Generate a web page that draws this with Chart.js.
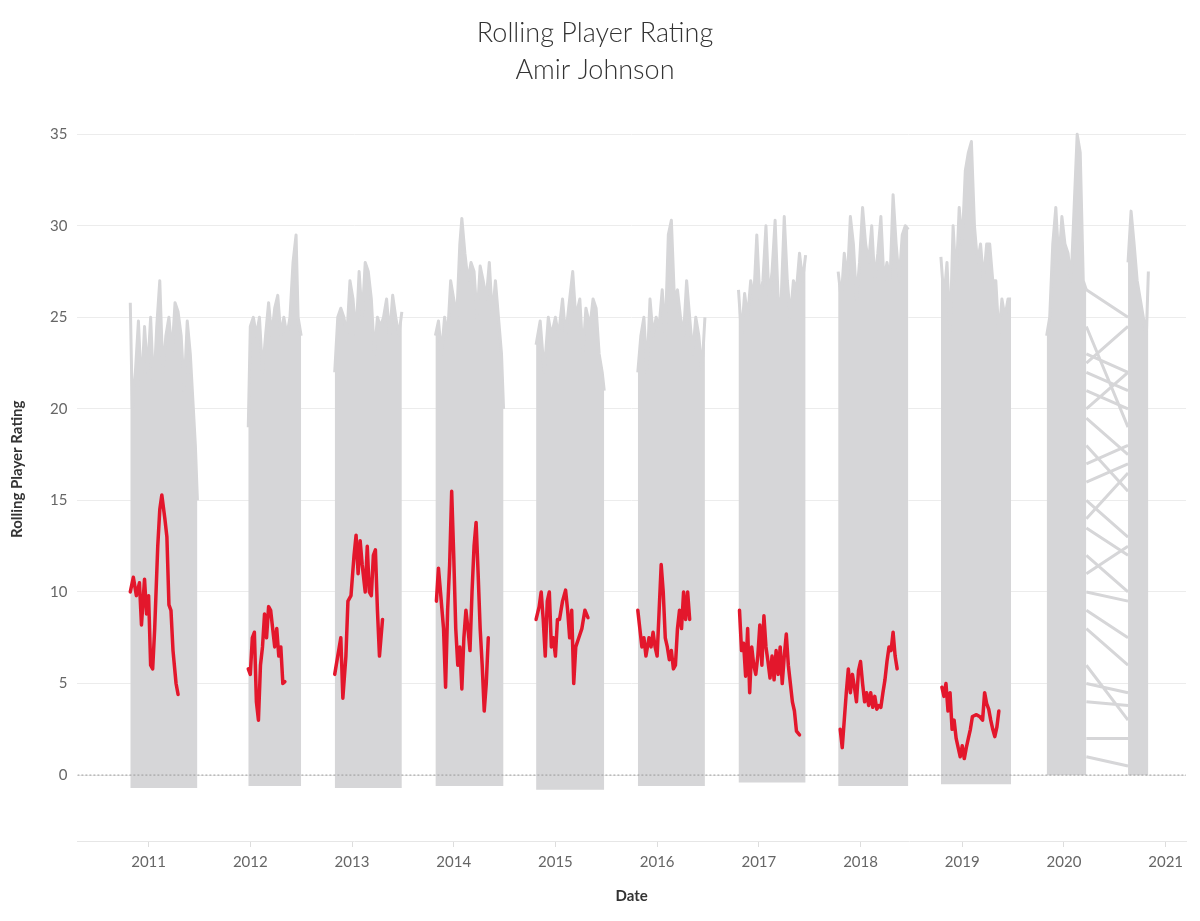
<!DOCTYPE html>
<html>
<head>
<meta charset="utf-8">
<script src="https://cdn.jsdelivr.net/npm/chart.js@4/dist/chart.umd.min.js"></script>
<style>
  html, body { margin: 0; padding: 0; background: #fff; }
  #wrap { width: 1200px; height: 921px; position: relative; }
</style>
</head>
<body>
<div id="wrap"><canvas id="ratingChart"></canvas></div>
<script>
// season ticks on the date axis
var yearTicks = [2011, 2012, 2013, 2014, 2015, 2016, 2017, 2018, 2019, 2020, 2021]

// league-wide envelope (top of the grey mass) per season: [date in years, rating]
var league2011 = [[2010.82,25.8],[2010.84,20],[2010.87,22],[2010.90,24.8],[2010.93,21],[2010.96,24.5],[2010.99,22],[2011.02,25],[2011.05,21],[2011.08,24.5],[2011.11,27],[2011.14,22],[2011.17,24],[2011.20,25],[2011.23,23],[2011.26,25.8],[2011.29,25.3],[2011.32,24],[2011.35,21],[2011.38,24.8],[2011.41,23],[2011.44,20],[2011.46,18],[2011.48,15]]
var league2012 = [[2011.98,19],[2012.00,24.5],[2012.03,25],[2012.06,24],[2012.09,25],[2012.12,22],[2012.15,24],[2012.18,25.8],[2012.21,24],[2012.24,25.5],[2012.27,26.2],[2012.30,24],[2012.33,25],[2012.36,24],[2012.39,25],[2012.42,28],[2012.45,29.5],[2012.47,25],[2012.50,24]]
var league2013 = [[2012.83,22],[2012.86,25],[2012.89,25.5],[2012.92,25],[2012.95,24],[2012.98,27],[2013.01,26],[2013.04,24],[2013.07,27.5],[2013.10,25],[2013.13,28],[2013.16,27.5],[2013.19,26],[2013.22,23],[2013.25,25],[2013.28,24.5],[2013.31,25],[2013.34,26],[2013.37,24],[2013.40,26.2],[2013.43,25],[2013.46,24],[2013.49,25.3]]
var league2014 = [[2013.82,24],[2013.85,24.8],[2013.88,23],[2013.91,25],[2013.94,24],[2013.97,27],[2014.00,26],[2014.03,25],[2014.06,29],[2014.08,30.4],[2014.11,28.5],[2014.14,27],[2014.17,28],[2014.20,27.5],[2014.23,25],[2014.26,27.8],[2014.29,27],[2014.32,26],[2014.35,28],[2014.38,25],[2014.41,27],[2014.44,25],[2014.47,23],[2014.49,20]]
var league2015 = [[2014.81,23.5],[2014.85,24.8],[2014.89,22],[2014.93,25],[2014.96,24],[2015.00,25],[2015.03,24],[2015.07,26],[2015.10,24],[2015.13,25.5],[2015.17,27.5],[2015.20,25],[2015.24,26],[2015.27,23],[2015.30,25.5],[2015.34,24.5],[2015.37,26],[2015.40,25.5],[2015.43,23],[2015.46,22],[2015.48,21]]
var league2016 = [[2015.81,22],[2015.84,24],[2015.87,25],[2015.90,22],[2015.93,26],[2015.96,24],[2015.99,25],[2016.02,24.5],[2016.05,26.5],[2016.08,24],[2016.11,29.5],[2016.14,30.3],[2016.17,26],[2016.20,26.5],[2016.23,25],[2016.26,24],[2016.29,27],[2016.32,25],[2016.35,23],[2016.38,25],[2016.41,24],[2016.44,22],[2016.47,25]]
var league2017 = [[2016.80,26.5],[2016.83,24],[2016.86,26.3],[2016.89,25],[2016.92,27],[2016.95,26],[2016.98,29.5],[2017.01,26],[2017.04,27],[2017.07,30],[2017.10,26],[2017.13,27.5],[2017.16,30.3],[2017.19,26],[2017.22,26],[2017.25,30.5],[2017.28,27],[2017.31,25],[2017.34,27],[2017.37,26.5],[2017.40,28.5],[2017.43,27],[2017.46,28.4]]
var league2018 = [[2017.78,27.5],[2017.81,26],[2017.84,28.5],[2017.87,27],[2017.90,30.5],[2017.93,29],[2017.96,26],[2017.99,28],[2018.02,31],[2018.05,29],[2018.08,28],[2018.11,30],[2018.14,27],[2018.17,28.5],[2018.20,30.5],[2018.23,27],[2018.26,28],[2018.29,27],[2018.32,31.7],[2018.35,29],[2018.38,27],[2018.41,29.5],[2018.44,30],[2018.47,29.8]]
var league2019 = [[2018.79,28.3],[2018.82,26],[2018.85,28],[2018.88,24],[2018.91,30],[2018.94,27],[2018.97,31],[2019.00,29],[2019.03,33],[2019.06,34],[2019.09,34.6],[2019.12,30],[2019.15,28],[2019.18,29],[2019.21,27],[2019.24,29],[2019.27,29],[2019.30,27],[2019.33,27],[2019.36,24],[2019.39,26],[2019.42,25],[2019.45,26],[2019.48,26]]
var league2020a = [[2019.83,24],[2019.86,25],[2019.89,29],[2019.92,31],[2019.95,28],[2019.98,30.5],[2020.01,29],[2020.04,28.5],[2020.07,27],[2020.10,31],[2020.13,35],[2020.16,34],[2020.19,27],[2020.22,26.5]]
var league2020b = [[2020.63,28],[2020.66,30.8],[2020.69,29],[2020.72,27],[2020.75,26],[2020.78,25],[2020.81,24],[2020.83,27.5]]
// bottom of the grey mass per season
var leagueFloor = [-0.7, -0.6, -0.7, -0.6, -0.8, -0.6, -0.4, -0.6, -0.5, 0, 0]

// 2020 bubble gap: ratings before (x 2020.22) and after (x 2020.63) the pause
var bubbleBefore = [26.5, 23, 22.5, 21, 19.5, 18, 16, 15, 13.5, 12, 10, 8, 6, 4, 2, 1, 20, 17, 24.5, 14, 22, 11, 9, 5]
var bubbleAfter  = [25, 22, 24.5, 20, 17.5, 15.5, 17, 13, 12, 10, 9.5, 6, 3, 3.8, 2, 0.5, 22, 18, 19, 16.5, 21, 12.5, 7.5, 4.5]

// Amir Johnson rolling rating per season: [date in years, rating]
var amir2011 = [[2010.82,10],[2010.85,10.8],[2010.88,9.8],[2010.91,10.5],[2010.93,8.2],[2010.96,10.7],[2010.98,8.8],[2011.00,9.8],[2011.02,6],[2011.04,5.8],[2011.06,8],[2011.09,12.5],[2011.11,14.5],[2011.13,15.3],[2011.16,14],[2011.18,13],[2011.20,9.3],[2011.22,9],[2011.24,6.8],[2011.27,5],[2011.29,4.4]]
var amir2012 = [[2011.98,5.8],[2012.00,5.5],[2012.02,7.5],[2012.04,7.8],[2012.06,4],[2012.08,3],[2012.10,6],[2012.12,7],[2012.14,8.8],[2012.16,7.5],[2012.18,9.2],[2012.20,9],[2012.22,8],[2012.24,7],[2012.26,8],[2012.28,6.5],[2012.30,7],[2012.32,5],[2012.34,5.1]]
var amir2013 = [[2012.83,5.5],[2012.86,6.5],[2012.89,7.5],[2012.91,4.2],[2012.94,6.5],[2012.96,9.5],[2012.99,9.8],[2013.02,12],[2013.04,13.1],[2013.06,11],[2013.08,12.8],[2013.10,11.5],[2013.13,10],[2013.15,12.5],[2013.17,10],[2013.19,9.8],[2013.21,12],[2013.23,12.3],[2013.25,9],[2013.27,6.5],[2013.30,8.5]]
var amir2014 = [[2013.83,9.5],[2013.85,11.3],[2013.87,10],[2013.90,8],[2013.92,4.8],[2013.94,9],[2013.96,11.5],[2013.98,15.5],[2014.00,12],[2014.02,8],[2014.04,6],[2014.06,7],[2014.08,4.7],[2014.10,7.5],[2014.12,9],[2014.14,8],[2014.16,6.8],[2014.18,10],[2014.20,12.5],[2014.22,13.8],[2014.24,11],[2014.26,8],[2014.28,6],[2014.30,3.5],[2014.32,5],[2014.34,7.5]]
var amir2015 = [[2014.81,8.5],[2014.84,9.2],[2014.86,10],[2014.88,8.5],[2014.90,6.5],[2014.92,9.5],[2014.94,10],[2014.96,7],[2014.98,7.5],[2015.00,6.5],[2015.02,8.5],[2015.04,8.5],[2015.07,9.5],[2015.10,10.1],[2015.12,9],[2015.14,7.5],[2015.16,9],[2015.18,5],[2015.20,7],[2015.23,7.5],[2015.26,8],[2015.29,9],[2015.32,8.6]]
var amir2016 = [[2015.81,9],[2015.83,8],[2015.85,7],[2015.87,7.5],[2015.89,6.5],[2015.92,7.5],[2015.94,7],[2015.96,7.8],[2015.98,7],[2016.00,6.5],[2016.02,9],[2016.04,11.5],[2016.06,10],[2016.08,7.5],[2016.10,7],[2016.12,6.3],[2016.14,6.8],[2016.16,5.8],[2016.18,6],[2016.20,8],[2016.22,9],[2016.24,8],[2016.26,10],[2016.28,8.5],[2016.30,10],[2016.32,8.5]]
var amir2017 = [[2016.81,9],[2016.83,6.8],[2016.85,7.2],[2016.87,5.4],[2016.89,8],[2016.91,4.5],[2016.93,7],[2016.95,6],[2016.97,5.5],[2016.99,6.5],[2017.01,8.2],[2017.03,6],[2017.05,8.7],[2017.07,7],[2017.09,6.2],[2017.11,5.3],[2017.13,6.5],[2017.15,5.2],[2017.17,6.8],[2017.19,5.5],[2017.21,7],[2017.23,5],[2017.25,6.5],[2017.27,7.7],[2017.29,6],[2017.31,5],[2017.33,4],[2017.35,3.5],[2017.37,2.4],[2017.40,2.2]]
var amir2018 = [[2017.80,2.5],[2017.82,1.5],[2017.84,3],[2017.86,4.5],[2017.88,5.8],[2017.90,4.5],[2017.92,5.5],[2017.94,4.8],[2017.96,4],[2017.98,5.7],[2018.00,6.2],[2018.02,5],[2018.04,4],[2018.06,4.5],[2018.08,3.8],[2018.10,4.5],[2018.12,3.7],[2018.14,4.3],[2018.16,3.6],[2018.18,3.8],[2018.20,3.7],[2018.22,4.5],[2018.24,5.2],[2018.26,6.2],[2018.28,7],[2018.30,6.8],[2018.32,7.8],[2018.34,6.5],[2018.36,5.8]]
var amir2019 = [[2018.80,4.8],[2018.82,4.3],[2018.84,5],[2018.86,3.5],[2018.88,4.5],[2018.90,2.5],[2018.92,3],[2018.94,2],[2018.96,1.5],[2018.98,1],[2019.00,1.6],[2019.02,0.9],[2019.04,1.5],[2019.06,2],[2019.08,2.5],[2019.10,3.2],[2019.14,3.3],[2019.17,3.2],[2019.20,3],[2019.22,4.5],[2019.24,3.9],[2019.26,3.6],[2019.28,3],[2019.30,2.5],[2019.32,2.1],[2019.34,2.6],[2019.36,3.5]]

var leagueSeasons = [league2011, league2012, league2013, league2014, league2015, league2016, league2017, league2018, league2019, league2020a, league2020b]
var amirSeasons = [amir2011, amir2012, amir2013, amir2014, amir2015, amir2016, amir2017, amir2018, amir2019]

var GREY = '#d6d6d8'
var RED = '#e3172c'

function toPoints(arr) {
    return arr.map(function (p) { return { x: p[0], y: p[1] } })
}

var datasets = []

// grey league mass, one filled band per season
leagueSeasons.forEach(function (s, i) {
    datasets.push({
        data: toPoints(s),
        borderColor: GREY,
        backgroundColor: GREY,
        borderWidth: 3,
        borderJoinStyle: 'round',
        pointRadius: 0,
        fill: { value: leagueFloor[i] },
        order: 3
    })
})

// sparse lines across the 2020 pause
var bubblePts = []
bubbleBefore.forEach(function (v, i) {
    bubblePts.push({ x: 2020.22, y: v }, { x: 2020.63, y: bubbleAfter[i] }, { x: 2020.63, y: null })
})
datasets.push({
    data: bubblePts,
    borderColor: GREY,
    borderWidth: 3,
    pointRadius: 0,
    spanGaps: false,
    fill: false,
    order: 3
})

// dotted zero line
datasets.push({
    data: [{ x: 2010.3, y: 0 }, { x: 2021.2, y: 0 }],
    borderColor: '#9a9a9a',
    borderWidth: 1,
    borderDash: [2, 2],
    pointRadius: 0,
    fill: false,
    order: 2
})

// Amir Johnson
amirSeasons.forEach(function (s) {
    datasets.push({
        data: toPoints(s),
        borderColor: RED,
        borderWidth: 3.5,
        borderJoinStyle: 'round',
        borderCapStyle: 'round',
        pointRadius: 0,
        fill: false,
        order: 1
    })
})

var ctx = document.getElementById('ratingChart').getContext('2d')
new Chart(ctx, {
    type: 'line',
    data: { datasets: datasets },
    options: {
        responsive: true,
        maintainAspectRatio: false,
        animation: false,
        layout: { padding: { left: 4, right: 14, top: 8, bottom: 12 } },
        plugins: {
            legend: { display: false },
            tooltip: { enabled: false },
            title: {
                display: true,
                text: ['Rolling Player Rating', 'Amir Johnson'],
                color: '#333',
                font: { family: 'Lato', size: 27, weight: '300', lineHeight: 1.4 },
                padding: { top: 6, bottom: 8 }
            }
        },
        scales: {
            x: {
                type: 'linear',
                min: 2010.3,
                max: 2021.2,
                afterBuildTicks: function (axis) {
                    axis.ticks = yearTicks.map(function (v) { return { value: v } })
                },
                ticks: {
                    color: '#666',
                    font: { family: 'Lato', size: 15 },
                    callback: function (v) { return String(v) },
                    padding: 6
                },
                grid: { drawOnChartArea: false, drawTicks: true, tickLength: 6, color: '#ddd' },
                border: { color: '#e6e6e6' },
                title: {
                    display: true,
                    text: 'Date',
                    color: '#333',
                    font: { family: 'Lato', size: 15, weight: 'bold' },
                    padding: { top: 10 }
                }
            },
            y: {
                min: -3.6,
                max: 37,
                afterBuildTicks: function (axis) {
                    axis.ticks = [0, 5, 10, 15, 20, 25, 30, 35].map(function (v) { return { value: v } })
                },
                ticks: {
                    color: '#666',
                    font: { family: 'Lato', size: 15 },
                    padding: 10
                },
                grid: { color: '#ececec', drawTicks: false },
                border: { display: false },
                title: {
                    display: true,
                    text: 'Rolling Player Rating',
                    color: '#333',
                    font: { family: 'Lato', size: 15, weight: 'bold' },
                    padding: { bottom: 14 }
                }
            }
        }
    }
})
</script>
</body>
</html>
